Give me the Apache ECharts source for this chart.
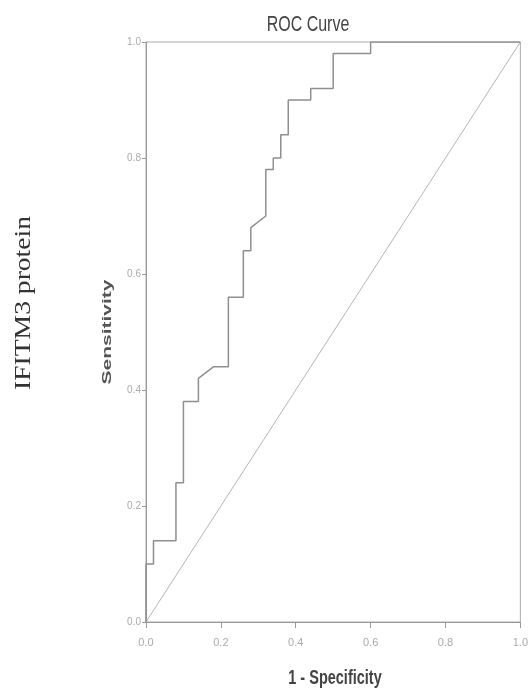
<!DOCTYPE html>
<html><head><meta charset="utf-8">
<script src="https://cdn.jsdelivr.net/npm/echarts@6/dist/echarts.min.js"></script>
<style>html,body{margin:0;padding:0;background:#fff}#c{width:531px;height:691px}</style>
</head><body><div id="c"></div>
<script>
// ROC curve points (1 - Specificity, Sensitivity)
var fpr = [0.00, 0.00, 0.02, 0.02, 0.08, 0.08, 0.10, 0.10, 0.14, 0.14, 0.18, 0.22, 0.22, 0.26, 0.26, 0.28, 0.28, 0.32, 0.32, 0.34, 0.34, 0.36, 0.36, 0.38, 0.38, 0.44, 0.44, 0.50, 0.50, 0.60, 0.60, 1.00];
var tpr = [0.00, 0.10, 0.10, 0.14, 0.14, 0.24, 0.24, 0.38, 0.38, 0.42, 0.44, 0.44, 0.56, 0.56, 0.64, 0.64, 0.68, 0.70, 0.78, 0.78, 0.80, 0.80, 0.84, 0.84, 0.90, 0.90, 0.92, 0.92, 0.98, 0.98, 1.00, 1.00];
// Reference (chance) diagonal
var refX = [0, 1];
var refY = [0, 1];
var titleText = 'ROC Curve';
var xName = '1 - Specificity';
var yName = 'Sensitivity';
var sideLabel = 'IFITM3 protein';

var chart = echarts.init(document.getElementById('c'));
var labelFmt = function (v) { return v.toFixed(1); };
var sans = 'Liberation Sans, Arial, sans-serif';
chart.setOption({
  animation: false,
  grid: { left: 146, top: 42, right: 7, bottom: 69, show: true, borderColor: '#aaa', borderWidth: 1 },
  xAxis: {
    type: 'value', min: 0, max: 1, interval: 0.2,
    axisLine: { show: true, lineStyle: { color: '#999', width: 1 } },
    axisTick: { show: true, length: 6, lineStyle: { color: '#999' } },
    axisLabel: { formatter: labelFmt, margin: 15, fontFamily: sans, fontSize: 11, color: '#aaa' },
    splitLine: { show: false }
  },
  yAxis: {
    type: 'value', min: 0, max: 1, interval: 0.2,
    axisLine: { show: true, lineStyle: { color: '#999', width: 1 } },
    axisTick: { show: true, length: 4, lineStyle: { color: '#999' } },
    axisLabel: { formatter: labelFmt, margin: 5, fontFamily: sans, fontSize: 10, color: '#aaa' },
    splitLine: { show: false }
  },
  graphic: [
    { type: 'text', x: 308, y: 25, scaleY: 1.39,
      style: { text: titleText, align: 'center', verticalAlign: 'middle', textAlign: 'center', textVerticalAlign: 'middle',
               fontFamily: sans, fontSize: 16, fill: '#444' } },
    { type: 'text', x: 335, y: 678, scaleY: 1.4,
      style: { text: xName, align: 'center', verticalAlign: 'middle', textAlign: 'center', textVerticalAlign: 'middle',
               fontFamily: sans, fontSize: 14.5, fontWeight: 'bold', fill: '#444' } },
    { type: 'text', x: 107.5, y: 332, rotation: Math.PI / 2, scaleX: 1.75,
      style: { text: yName, align: 'center', verticalAlign: 'middle', textAlign: 'center', textVerticalAlign: 'middle',
               fontFamily: sans, fontSize: 12, fontWeight: 'bold', fill: '#555' } },
    { type: 'text', x: 24, y: 303, rotation: Math.PI / 2, scaleX: 1.15,
      style: { text: sideLabel, align: 'center', verticalAlign: 'middle', textAlign: 'center', textVerticalAlign: 'middle',
               fontFamily: 'Liberation Serif, Times New Roman, serif', fontSize: 24, fill: '#333' } }
  ],
  series: [
    {
      type: 'line', data: fpr.map(function (x, i) { return [x, tpr[i]]; }),
      showSymbol: false, lineStyle: { color: '#8f8f8f', width: 1.5 }, z: 3
    },
    {
      type: 'line', data: refX.map(function (x, i) { return [x, refY[i]]; }),
      showSymbol: false, lineStyle: { color: '#b5b5b5', width: 1 }, z: 2
    }
  ]
});
</script>
</body></html>
